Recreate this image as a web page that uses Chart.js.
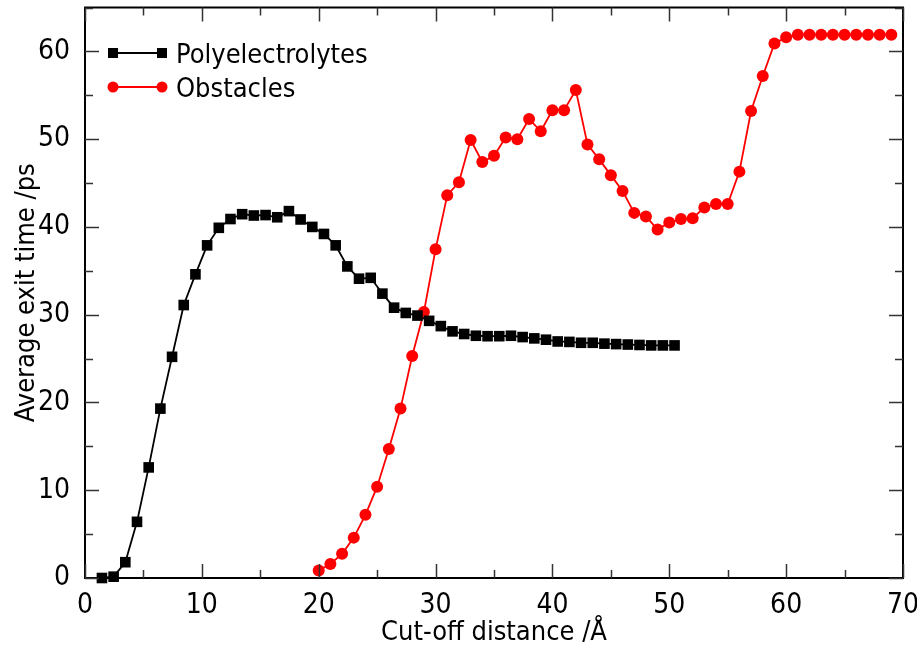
<!DOCTYPE html>
<html>
<head>
<meta charset="utf-8">
<script src="https://cdn.jsdelivr.net/npm/chart.js@4.4.0/dist/chart.umd.min.js"></script>
<style>
  html, body { margin: 0; padding: 0; background: #fff; }
  #wrap { width: 917px; height: 647px; }
</style>
</head>
<body>
<div id="wrap"><canvas id="exit-time-chart" width="917" height="647"></canvas></div>
<script>
// x positions of the polyelectrolyte points (half-step grid)
const polyX = []
for (let i = 0; i < 50; i++) polyX.push(1.45 + i)
const polyY = [
    0.0, 0.15, 1.8, 6.4, 12.6, 19.3, 25.2, 31.1, 34.6, 37.9,
    39.9, 40.9, 41.45, 41.3, 41.35, 41.1, 41.8, 40.85, 40.0, 39.2,
    37.9, 35.5, 34.1, 34.2, 32.4, 30.8, 30.2, 29.9, 29.3, 28.7,
    28.1, 27.8, 27.6, 27.55, 27.55, 27.6, 27.45, 27.3, 27.15, 26.95,
    26.9, 26.8, 26.8, 26.7, 26.65, 26.6, 26.55, 26.5, 26.5, 26.5
]

const obstX = []
for (let i = 20; i <= 69; i++) obstX.push(i)
const obstY = [
    0.85, 1.6, 2.75, 4.6, 7.2, 10.4, 14.7, 19.3, 25.3, 30.3,
    37.45, 43.6, 45.1, 49.9, 47.4, 48.1, 50.2, 50.0, 52.3, 50.9,
    53.3, 53.3, 55.6, 49.4, 47.7, 45.9, 44.1, 41.6, 41.2, 39.7,
    40.5, 40.9, 41.0, 42.2, 42.6, 42.6, 46.3, 53.2, 57.2, 60.9,
    61.6, 61.9, 61.9, 61.9, 61.9, 61.9, 61.9, 61.9, 61.9, 61.9
]

const seriesNames = ["Polyelectrolytes", "Obstacles"]
const xTitle = "Cut-off distance /Å"
const yTitle = "Average exit time /ps"

const FONT = "'Liberation Sans Narrow', 'DejaVu Sans Condensed', 'Liberation Sans', sans-serif"

function toPoints(xs, ys) {
    return xs.map((x, i) => ({ x: x, y: ys[i] }))
}

// frame + inward ticks on all four sides, plus the legend
const frameTicks = {
    id: 'frameTicks',
    afterDraw(chart) {
        const ctx = chart.ctx
        const a = chart.chartArea
        const xs = chart.scales.x
        const ys = chart.scales.y
        ctx.save()
        ctx.strokeStyle = '#000'
        ctx.lineWidth = 2
        ctx.strokeRect(a.left, a.top, a.right - a.left, a.bottom - a.top)
        ctx.lineWidth = 1.5
        ctx.strokeStyle = '#333'
        ctx.beginPath()
        for (let v = 0; v <= 70; v += 5) {
            const px = Math.round(xs.getPixelForValue(v)) + 0.5
            const len = v % 10 === 0 ? 14 : 8
            ctx.moveTo(px, a.bottom); ctx.lineTo(px, a.bottom - len)
            ctx.moveTo(px, a.top); ctx.lineTo(px, a.top + len)
        }
        for (let v = 0; v <= 65; v += 5) {
            const py = Math.round(ys.getPixelForValue(v)) + 0.5
            const len = v % 10 === 0 ? 14 : 8
            ctx.moveTo(a.left, py); ctx.lineTo(a.left + len, py)
            ctx.moveTo(a.right, py); ctx.lineTo(a.right - len, py)
        }
        ctx.stroke()

        // legend
        const rows = [
            { y: 53, color: '#000', style: 'rect' },
            { y: 87, color: '#ff0000', style: 'circle' }
        ]
        ctx.font = '27px ' + FONT
        ctx.textBaseline = 'alphabetic'
        rows.forEach((r, i) => {
            ctx.strokeStyle = r.color
            ctx.fillStyle = r.color
            ctx.lineWidth = 2
            ctx.beginPath()
            ctx.moveTo(113, r.y); ctx.lineTo(162, r.y)
            ctx.stroke()
            ;[113, 162].forEach(px => {
                if (r.style === 'rect') {
                    ctx.fillRect(px - 5, r.y - 5, 10, 10)
                } else {
                    ctx.beginPath(); ctx.arc(px, r.y, 5.5, 0, Math.PI * 2); ctx.fill()
                }
            })
            ctx.fillStyle = '#000'
            ctx.fillText(seriesNames[i], 176, r.y + 10)
        })
        ctx.restore()
    }
}

const ctx = document.getElementById('exit-time-chart')

new Chart(ctx, {
    type: 'line',
    data: {
        datasets: [
            {
                label: seriesNames[0],
                data: toPoints(polyX, polyY),
                borderColor: '#000',
                backgroundColor: '#000',
                borderWidth: 1.8,
                pointStyle: 'rect',
                pointRadius: 7.5,
                pointBorderWidth: 0,
                tension: 0,
                clip: false
            },
            {
                label: seriesNames[1],
                data: toPoints(obstX, obstY),
                borderColor: '#ff0000',
                backgroundColor: '#ff0000',
                borderWidth: 1.8,
                pointStyle: 'circle',
                pointRadius: 6,
                pointBorderWidth: 0,
                tension: 0,
                clip: false
            }
        ]
    },
    options: {
        responsive: false,
        animation: false,
        layout: { padding: { top: 7, right: 14, left: 0, bottom: 0 } },
        plugins: {
            legend: { display: false },
            tooltip: { enabled: false }
        },
        scales: {
            x: {
                type: 'linear',
                min: 0,
                max: 70,
                grid: { display: false },
                border: { display: false },
                ticks: {
                    stepSize: 10,
                    color: '#000',
                    padding: 3,
                    font: { family: FONT, size: 28 }
                },
                title: {
                    display: true,
                    text: xTitle,
                    color: '#000',
                    font: { family: FONT, size: 27, lineHeight: 1.0 },
                    padding: { top: 0, bottom: 1 }
                },
                afterFit(scale) {
                    scale.height = 69
                    scale.paddingLeft = 0
                    scale.paddingRight = 0
                }
            },
            y: {
                type: 'linear',
                min: 0,
                max: 65,
                grid: { display: false },
                border: { display: false },
                afterBuildTicks(scale) {
                    scale.ticks = scale.ticks.filter(t => t.value % 10 === 0)
                },
                ticks: {
                    stepSize: 10,
                    color: '#000',
                    padding: 7,
                    font: { family: FONT, size: 28 }
                },
                title: {
                    display: true,
                    text: yTitle,
                    color: '#000',
                    font: { family: FONT, size: 27, lineHeight: 1.0 },
                    padding: { top: 13, bottom: 0 }
                },
                afterFit(scale) {
                    scale.width = 85
                    scale.paddingTop = 0
                    scale.paddingBottom = 0
                }
            }
        }
    },
    plugins: [frameTicks]
})
</script>
</body>
</html>
